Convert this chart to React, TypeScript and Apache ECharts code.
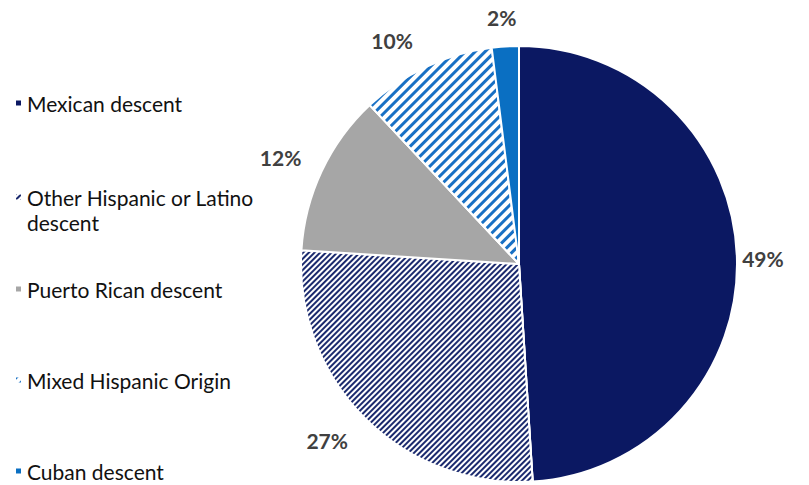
import React, { useEffect, useRef } from "react";
import * as echarts from "echarts";

const categories = [
  "Mexican descent",
  "Other Hispanic or Latino descent",
  "Puerto Rican descent",
  "Mixed Hispanic Origin",
  "Cuban descent",
];
const values = [49, 27, 12, 10, 2];
// legend text lines per category (second line drawn without icon)
const legendLines = [
  ["Mexican descent"],
  ["Other Hispanic or Latino", "descent"],
  ["Puerto Rican descent"],
  ["Mixed Hispanic Origin"],
  ["Cuban descent"],
];

// layout constants
const CX = 519;
const CY = 264;
const R = 218;
const LABEL_OFFSETS = [26, 43, 43, 39, 29];
const LABEL_NUDGE_DEG = [0.4, 2.3, -1.2, -4.4, -0.4];
const LEGEND_TOPS = [90.5, 184.5, 276.5, 367.5, 458.5];
const LEGEND_LINE_HEIGHT = 25;

const NAVY = "#0b1862";
const BLUE = "#0a6fc2";
const GRAY = "#a6a6a6";

export default function App() {
  const ref = useRef<HTMLDivElement>(null);
  useEffect(() => {
    document.body.style.margin = "0";
    const chart = echarts.init(ref.current!, null, { renderer: "svg" });
    const total = values.reduce((a, b) => a + b, 0);
    const styles = [
      { color: NAVY },
      {
        color: "#ffffff",
        decal: {
          symbol: "rect",
          symbolSize: 1,
          dashArrayX: [1, 0],
          dashArrayY: [2, 1.6],
          rotation: -Math.PI / 4,
          color: "#1b2a6e",
        },
      },
      { color: GRAY },
      {
        color: "#ffffff",
        decal: {
          symbol: "rect",
          symbolSize: 1,
          dashArrayX: [1, 0],
          dashArrayY: [2.4, 3.6],
          rotation: -Math.PI / 4,
          color: "#1870c4",
        },
      },
      { color: BLUE },
    ];
    const legends: any[] = [];
    categories.forEach((c, i) => {
      legendLines[i].forEach((line, j) => {
        legends.push({
          data: [c],
          orient: "vertical",
          left: j === 0 ? 14 : 15,
          top: LEGEND_TOPS[i] + j * LEGEND_LINE_HEIGHT,
          padding: 0,
          itemWidth: 7,
          itemHeight: 7,
          itemGap: 0,
          icon: j === 0 ? "rect" : "none",
          selectedMode: false,
          formatter: () => line,
          textStyle: {
            fontFamily: "Lato",
            fontSize: 21,
            color: "#111111",
            lineHeight: LEGEND_LINE_HEIGHT,
          },
        });
      });
    });
    chart.setOption({
      animation: false,
      backgroundColor: "#ffffff",
      legend: legends,
      series: [
        {
          type: "pie",
          center: [CX, CY],
          radius: R,
          startAngle: 90,
          clockwise: true,
          itemStyle: { borderColor: "#ffffff", borderWidth: 2 },
          label: {
            show: true,
            position: "outside",
            formatter: (p: any) => `${p.value}%`,
            fontFamily: "Lato",
            fontWeight: "bold",
            fontSize: 21,
            color: "#404040",
          },
          labelLine: { show: false, length: 2, length2: 0 },
          labelLayout: (p: any) => {
            const i = p.dataIndex;
            let cum = 0;
            for (let k = 0; k < i; k++) cum += values[k];
            const f = (cum + values[i] / 2) / total;
            const th = f * Math.PI * 2 + (LABEL_NUDGE_DEG[i] * Math.PI) / 180;
            const d = R + LABEL_OFFSETS[i];
            return {
              x: CX + Math.sin(th) * d,
              y: CY - Math.cos(th) * d,
              align: "center",
              verticalAlign: "middle",
            };
          },
          data: categories.map((c, i) => ({
            name: c,
            value: values[i],
            itemStyle: styles[i],
          })),
        },
      ],
    });
    return () => chart.dispose();
  }, []);
  return <div ref={ref} style={{ width: 809, height: 485 }} />;
}
